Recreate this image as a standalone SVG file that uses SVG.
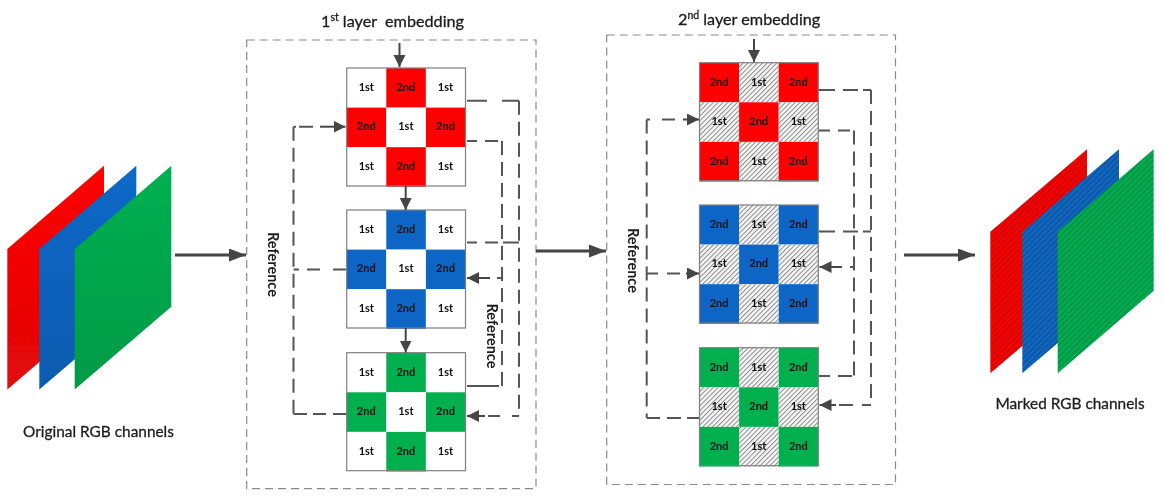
<svg xmlns="http://www.w3.org/2000/svg" width="1164" height="498" viewBox="0 0 1164 498">
<style>
text{font-family:Lato,"Open Sans","Liberation Sans",sans-serif;fill:#1c1c1c}
.c{font-size:11px;font-weight:700;text-anchor:middle;fill:#111}
.t{font-size:16.2px;stroke:#1c1c1c;stroke-width:.3}
.l{font-size:15.4px;text-anchor:middle;stroke:#1c1c1c;stroke-width:.3}
.r{font-size:14.5px;font-weight:700;text-anchor:middle}
.o{fill:none;stroke:#8a8a8a;stroke-width:1.2;stroke-dasharray:8 5}
.g{fill:none;stroke:#7f7f7f;stroke-width:1.2}
.w{fill:#fff}.h{fill:url(#hatch)}
.red{fill:#f00}.blue{fill:#0866c6}.green{fill:#00b050}
.d{fill:none;stroke:#555;stroke-width:2;stroke-dasharray:14 7}
.s{fill:none;stroke:#555;stroke-width:2}
.a{fill:none;stroke:#444;stroke-width:2;marker-end:url(#ah)}
.b{fill:none;stroke:#444;stroke-width:3.2;marker-end:url(#big)}
#all{filter:url(#soft)}
</style>
<defs>
<filter id="soft" x="0" y="0" width="100%" height="100%" filterUnits="objectBoundingBox"><feGaussianBlur stdDeviation="0.4"/></filter>
<marker id="ah" markerUnits="userSpaceOnUse" markerWidth="14" markerHeight="14" refX="12" refY="6" orient="auto"><path d="M0 0L12 6L0 12Z" fill="#444"/></marker>
<marker id="big" markerUnits="userSpaceOnUse" markerWidth="18" markerHeight="14" refX="17" refY="6.5" orient="auto"><path d="M0 0L17 6.5L0 13Z" fill="#444"/></marker>
<pattern id="hatch" width="3.4" height="3.4" patternUnits="userSpaceOnUse" patternTransform="rotate(45)"><rect width="3.4" height="3.4" fill="#f6f6f6"/><rect width="1" height="3.4" fill="#8c8c8c"/></pattern>
<pattern id="mr" width="4" height="4" patternUnits="userSpaceOnUse" patternTransform="rotate(45)"><rect width="4" height="4" fill="#f00"/><rect width="1.5" height="4" fill="#c00a0a"/></pattern>
<pattern id="mb" width="4" height="4" patternUnits="userSpaceOnUse" patternTransform="rotate(45)"><rect width="4" height="4" fill="#0a68c8"/><rect width="1.5" height="4" fill="#145091"/></pattern>
<pattern id="mg" width="4" height="4" patternUnits="userSpaceOnUse" patternTransform="rotate(45)"><rect width="4" height="4" fill="#00b050"/><rect width="1.5" height="4" fill="#0a8c46"/></pattern>
<linearGradient id="gr" x1="0" y1="0" x2="0" y2="1"><stop offset="0" stop-color="#f00"/><stop offset="1" stop-color="#e00808"/></linearGradient>
<linearGradient id="gb" x1="0" y1="0" x2="0" y2="1"><stop offset="0" stop-color="#0868c8"/><stop offset="1" stop-color="#0a5cb0"/></linearGradient>
<linearGradient id="gg" x1="0" y1="0" x2="0" y2="1"><stop offset="0" stop-color="#00b050"/><stop offset="1" stop-color="#049a48"/></linearGradient>
</defs>
<rect width="1164" height="498" fill="#fff"/>
<g id="all">
<rect width="1164" height="498" fill="#fff"/>

<g id="original-channels">
<path d="M7.3 249L104 165.7V306.7L7.3 389.5Z" fill="url(#gr)"/>
<path d="M39.3 249L136.3 165.7V306.7L39.3 389.5Z" fill="url(#gb)"/>
<path d="M74.7 249L171.3 165.7V306.7L74.7 389.5Z" fill="url(#gg)"/>
<text class="l" x="98.5" y="436.5">Original RGB channels</text>
</g>

<g id="first-layer-box">
<rect class="o" x="246.7" y="40" width="289.3" height="448.7"/>
<text class="t" x="321" y="26.7" xml:space="preserve">1<tspan font-size="10.5" dy="-6">st</tspan><tspan dy="6"> layer  embedding</tspan></text>
</g>
<g id="second-layer-box">
<rect class="o" x="606.7" y="35" width="288.8" height="449.5"/>
<text class="t" x="678" y="25">2<tspan font-size="10.5" dy="-6">nd</tspan><tspan dy="6"> layer embedding</tspan></text>
</g>

<g id="grid-1-red" transform="translate(346.7 68)">
<rect class="w" x="0" y="0" width="39.6" height="39.6"/><rect class="red" x="39.6" y="0" width="39.6" height="39.6"/><rect class="w" x="79.2" y="0" width="39.6" height="39.6"/>
<rect class="red" x="0" y="39.6" width="39.6" height="39.6"/><rect class="w" x="39.6" y="39.6" width="39.6" height="39.6"/><rect class="red" x="79.2" y="39.6" width="39.6" height="39.6"/>
<rect class="w" x="0" y="79.2" width="39.6" height="39.6"/><rect class="red" x="39.6" y="79.2" width="39.6" height="39.6"/><rect class="w" x="79.2" y="79.2" width="39.6" height="39.6"/>
<rect class="g" width="118.8" height="118"/>
<text class="c" x="19.6" y="22.9">1st</text><text class="c" x="59.2" y="22.9">2nd</text><text class="c" x="98.8" y="22.9">1st</text>
<text class="c" x="19.6" y="62.4">2nd</text><text class="c" x="59.2" y="62.4">1st</text><text class="c" x="98.8" y="62.4">2nd</text>
<text class="c" x="19.6" y="102">1st</text><text class="c" x="59.2" y="102">2nd</text><text class="c" x="98.8" y="102">1st</text>
</g>
<g id="grid-1-blue" transform="translate(346.7 210)">
<rect class="w" x="0" y="0" width="39.6" height="39.6"/><rect class="blue" x="39.6" y="0" width="39.6" height="39.6"/><rect class="w" x="79.2" y="0" width="39.6" height="39.6"/>
<rect class="blue" x="0" y="39.6" width="39.6" height="39.6"/><rect class="w" x="39.6" y="39.6" width="39.6" height="39.6"/><rect class="blue" x="79.2" y="39.6" width="39.6" height="39.6"/>
<rect class="w" x="0" y="79.2" width="39.6" height="39.6"/><rect class="blue" x="39.6" y="79.2" width="39.6" height="39.6"/><rect class="w" x="79.2" y="79.2" width="39.6" height="39.6"/>
<rect class="g" width="118.8" height="118"/>
<text class="c" x="19.6" y="22.9">1st</text><text class="c" x="59.2" y="22.9">2nd</text><text class="c" x="98.8" y="22.9">1st</text>
<text class="c" x="19.6" y="62.4">2nd</text><text class="c" x="59.2" y="62.4">1st</text><text class="c" x="98.8" y="62.4">2nd</text>
<text class="c" x="19.6" y="102">1st</text><text class="c" x="59.2" y="102">2nd</text><text class="c" x="98.8" y="102">1st</text>
</g>
<g id="grid-1-green" transform="translate(346.7 352.7)">
<rect class="w" x="0" y="0" width="39.6" height="39.6"/><rect class="green" x="39.6" y="0" width="39.6" height="39.6"/><rect class="w" x="79.2" y="0" width="39.6" height="39.6"/>
<rect class="green" x="0" y="39.6" width="39.6" height="39.6"/><rect class="w" x="39.6" y="39.6" width="39.6" height="39.6"/><rect class="green" x="79.2" y="39.6" width="39.6" height="39.6"/>
<rect class="w" x="0" y="79.2" width="39.6" height="39.6"/><rect class="green" x="39.6" y="79.2" width="39.6" height="39.6"/><rect class="w" x="79.2" y="79.2" width="39.6" height="39.6"/>
<rect class="g" width="118.8" height="118"/>
<text class="c" x="19.6" y="22.9">1st</text><text class="c" x="59.2" y="22.9">2nd</text><text class="c" x="98.8" y="22.9">1st</text>
<text class="c" x="19.6" y="62.4">2nd</text><text class="c" x="59.2" y="62.4">1st</text><text class="c" x="98.8" y="62.4">2nd</text>
<text class="c" x="19.6" y="102">1st</text><text class="c" x="59.2" y="102">2nd</text><text class="c" x="98.8" y="102">1st</text>
</g>

<g id="grid-2-red" transform="translate(699.5 62.7)">
<rect class="red" x="0" y="0" width="39.6" height="39.6"/><rect class="h" x="39.6" y="0" width="39.6" height="39.6"/><rect class="red" x="79.2" y="0" width="39.6" height="39.6"/>
<rect class="h" x="0" y="39.6" width="39.6" height="39.6"/><rect class="red" x="39.6" y="39.6" width="39.6" height="39.6"/><rect class="h" x="79.2" y="39.6" width="39.6" height="39.6"/>
<rect class="red" x="0" y="79.2" width="39.6" height="39.6"/><rect class="h" x="39.6" y="79.2" width="39.6" height="39.6"/><rect class="red" x="79.2" y="79.2" width="39.6" height="39.6"/>
<rect class="g" width="118.8" height="118"/>
<text class="c" x="19.6" y="23">2nd</text><text class="c" x="59.2" y="23">1st</text><text class="c" x="98.8" y="23">2nd</text>
<text class="c" x="19.6" y="62.4">1st</text><text class="c" x="59.2" y="62.4">2nd</text><text class="c" x="98.8" y="62.4">1st</text>
<text class="c" x="19.6" y="102">2nd</text><text class="c" x="59.2" y="102">1st</text><text class="c" x="98.8" y="102">2nd</text>
</g>
<g id="grid-2-blue" transform="translate(699.5 205)">
<rect class="blue" x="0" y="0" width="39.6" height="39.6"/><rect class="h" x="39.6" y="0" width="39.6" height="39.6"/><rect class="blue" x="79.2" y="0" width="39.6" height="39.6"/>
<rect class="h" x="0" y="39.6" width="39.6" height="39.6"/><rect class="blue" x="39.6" y="39.6" width="39.6" height="39.6"/><rect class="h" x="79.2" y="39.6" width="39.6" height="39.6"/>
<rect class="blue" x="0" y="79.2" width="39.6" height="39.6"/><rect class="h" x="39.6" y="79.2" width="39.6" height="39.6"/><rect class="blue" x="79.2" y="79.2" width="39.6" height="39.6"/>
<rect class="g" width="118.8" height="118"/>
<text class="c" x="19.6" y="23">2nd</text><text class="c" x="59.2" y="23">1st</text><text class="c" x="98.8" y="23">2nd</text>
<text class="c" x="19.6" y="62.4">1st</text><text class="c" x="59.2" y="62.4">2nd</text><text class="c" x="98.8" y="62.4">1st</text>
<text class="c" x="19.6" y="102">2nd</text><text class="c" x="59.2" y="102">1st</text><text class="c" x="98.8" y="102">2nd</text>
</g>
<g id="grid-2-green" transform="translate(699.5 347.7)">
<rect class="green" x="0" y="0" width="39.6" height="39.6"/><rect class="h" x="39.6" y="0" width="39.6" height="39.6"/><rect class="green" x="79.2" y="0" width="39.6" height="39.6"/>
<rect class="h" x="0" y="39.6" width="39.6" height="39.6"/><rect class="green" x="39.6" y="39.6" width="39.6" height="39.6"/><rect class="h" x="79.2" y="39.6" width="39.6" height="39.6"/>
<rect class="green" x="0" y="79.2" width="39.6" height="39.6"/><rect class="h" x="39.6" y="79.2" width="39.6" height="39.6"/><rect class="green" x="79.2" y="79.2" width="39.6" height="39.6"/>
<rect class="g" width="118.8" height="118"/>
<text class="c" x="19.6" y="23">2nd</text><text class="c" x="59.2" y="23">1st</text><text class="c" x="98.8" y="23">2nd</text>
<text class="c" x="19.6" y="62.4">1st</text><text class="c" x="59.2" y="62.4">2nd</text><text class="c" x="98.8" y="62.4">1st</text>
<text class="c" x="19.6" y="102">2nd</text><text class="c" x="59.2" y="102">1st</text><text class="c" x="98.8" y="102">2nd</text>
</g>

<g id="marked-channels">
<path d="M990.3 231.7L1087 149.3V290.7L990.3 373.3Z" fill="url(#mr)"/>
<path d="M1022.3 231.7L1119 149.3V290.7L1022.3 373.3Z" fill="url(#mb)"/>
<path d="M1057.7 231.7L1153.7 149.3V290.7L1057.7 373.3Z" fill="url(#mg)"/>
<text class="l" x="1070" y="408.5">Marked RGB channels</text>
</g>

<g id="reference-labels">
<text class="r" transform="translate(267.5 264.5) rotate(90)">Reference</text>
<text class="r" transform="translate(486.5 336) rotate(90)">Reference</text>
<text class="r" transform="translate(628 260.5) rotate(90)">Reference</text>
</g>

<g id="connectors">
<path class="b" d="M175 255H246"/>
<path class="b" d="M536 251H606"/>
<path class="b" d="M904 255H975"/>
<path class="a" d="M399.5 43V67"/>
<path class="a" d="M405.7 186V210"/>
<path class="a" d="M405.7 328V352.5"/>
<path class="s" d="M467 100.7H487M502 100.7H519"/>
<path class="d" d="M519 100.7V416"/>
<path class="s" d="M467 242.5H477M485 242.5H498M503 242.5H519"/>
<path class="s" d="M519 416H512M500 416H488"/>
<path class="a" d="M485 416H467"/>
<path class="s" d="M467 141H477M485 141H498"/>
<path class="d" d="M502 141V386"/>
<path class="s" d="M467 386H499"/>
<path class="s" d="M502 278H497"/>
<path class="a" d="M490 278H467"/>
<path class="s" d="M346 269.5H333M320 269.5H307M299 269.5H293.5"/>
<path class="d" d="M293.5 126.7V414"/>
<path class="s" d="M293.5 126.7H296M299 126.7H313"/>
<path class="a" d="M320 126.7H345.5"/>
<path class="s" d="M293.5 414H307M313 414H326M333 414H346"/>
<path class="a" d="M754 39V62"/>
<path class="s" d="M819 90H835M843 90H858M863 90H871"/>
<path class="d" d="M871 90V405"/>
<path class="s" d="M819 231.5H835M843 231.5H858M863 231.5H871"/>
<path class="s" d="M871 405H862M853 405H839"/>
<path class="a" d="M836 405H819.5"/>
<path class="s" d="M819 130.5H830M838 130.5H850"/>
<path class="d" d="M854 130.5V376"/>
<path class="s" d="M819 376H830M838 376H852"/>
<path class="s" d="M854 267H850"/>
<path class="a" d="M842 267H819.5"/>
<path class="d" d="M646.7 119.5V418"/>
<path class="s" d="M646.7 119.5H650M662 119.5H675"/>
<path class="a" d="M683 119.5H699"/>
<path class="s" d="M646.7 273.5H658M667 273.5H680"/>
<path class="a" d="M686 273.5H699"/>
<path class="s" d="M647 418H660M667 418H681M687 418H699"/>
</g>
</g>
</svg>
